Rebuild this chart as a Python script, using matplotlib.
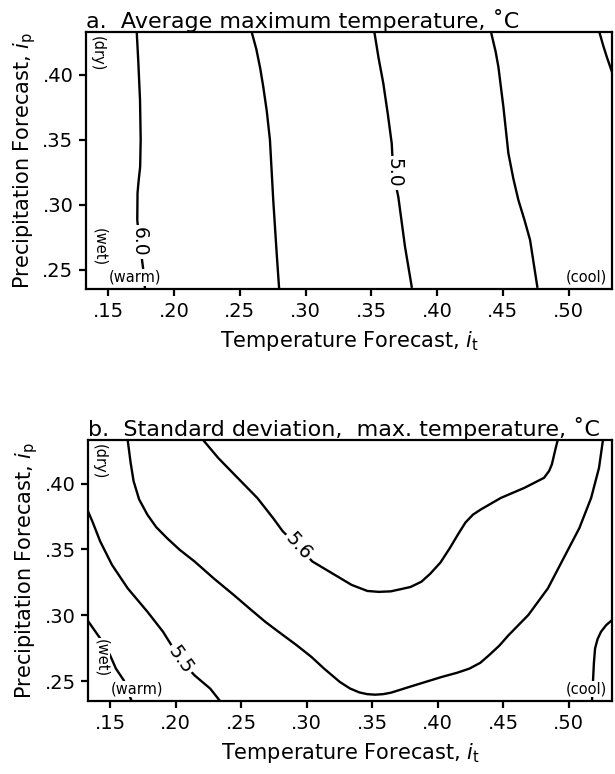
import matplotlib.pyplot as plt
from matplotlib.ticker import FuncFormatter

# axis ticks
it_ticks = [0.15, 0.20, 0.25, 0.30, 0.35, 0.40, 0.45, 0.50]
ip_ticks = [0.25, 0.30, 0.35, 0.40]

# panel a: average maximum temperature, contour lines
a60_it = [0.1716, 0.1728, 0.1741, 0.1746, 0.1742, 0.1730, 0.1722, 0.1720, 0.1735, 0.1753,
          0.1766, 0.1779]
a60_ip = [0.433, 0.41, 0.3806, 0.35, 0.3292, 0.318, 0.309, 0.2882, 0.272, 0.2599,
          0.2496, 0.235]
a55_it = [0.259, 0.2625, 0.2655, 0.2678, 0.2705, 0.2729, 0.2754, 0.278, 0.2798]
a55_ip = [0.433, 0.42, 0.405, 0.3909, 0.372, 0.3498, 0.3036, 0.2628, 0.2364]
a50_it = [0.3523, 0.3555, 0.3591, 0.3625, 0.3655, 0.3667, 0.3705, 0.3756, 0.3807]
a50_ip = [0.433, 0.413, 0.3935, 0.37, 0.3472, 0.3242, 0.3061, 0.2676, 0.2368]
a45_it = [0.441, 0.4445, 0.4466, 0.4504, 0.4542, 0.458, 0.4618, 0.4665, 0.4707, 0.4762]
a45_ip = [0.433, 0.418, 0.4063, 0.3755, 0.3396, 0.32, 0.3036, 0.288, 0.2728, 0.2368]
a40_it = [0.5234, 0.5262, 0.529, 0.533]
a40_ip = [0.433, 0.423, 0.414, 0.4022]

# panel b: standard deviation of max temperature
b56_it = [0.2209, 0.2323, 0.2472, 0.2622, 0.2742, 0.2817, 0.2937, 0.3042, 0.3192,
          0.3342, 0.3462, 0.355, 0.3642, 0.3792, 0.3875, 0.3942, 0.4020, 0.4092,
          0.4155, 0.4212, 0.4270, 0.4332, 0.4482, 0.4661, 0.4811, 0.4850, 0.4871,
          0.4901, 0.4916]
b56_ip = [0.433, 0.4195, 0.4043, 0.3891, 0.3739, 0.3637, 0.3523, 0.3409, 0.332,
          0.3231, 0.3185, 0.3178, 0.3182, 0.3215, 0.3255, 0.3315, 0.340, 0.351,
          0.3615, 0.3705, 0.3765, 0.3805, 0.3891, 0.3967, 0.4043, 0.4095, 0.4145,
          0.4272, 0.433]
bmid_it = [0.1633, 0.1655, 0.1678, 0.172, 0.1783, 0.185, 0.1933, 0.203, 0.2143, 0.229,
           0.2442, 0.2565, 0.2682, 0.2805, 0.2922, 0.3035, 0.3132, 0.3252, 0.3330,
           0.3402, 0.3462, 0.3522, 0.3582, 0.3642, 0.3822, 0.4032, 0.4150, 0.4242,
           0.4325, 0.4392, 0.4470, 0.4541, 0.4691, 0.4841, 0.4961, 0.5081, 0.5171,
           0.5231, 0.5261]
bmid_ip = [0.433, 0.416, 0.4018, 0.388, 0.3764, 0.367, 0.3586, 0.3497, 0.3409, 0.328,
           0.3155, 0.305, 0.2952, 0.286, 0.2774, 0.2685, 0.2596, 0.2495, 0.2445,
           0.2415, 0.2402, 0.2398, 0.2402, 0.2413, 0.2469, 0.2533, 0.2565, 0.2596,
           0.2640, 0.2698, 0.2770, 0.285, 0.3002, 0.3205, 0.3434, 0.3662, 0.3891,
           0.4119, 0.433]
b55_it = [0.133, 0.1363, 0.1423, 0.1513, 0.1633, 0.1783, 0.1903, 0.2038, 0.2143,
          0.2263, 0.2338]
b55_ip = [0.3789, 0.3713, 0.3561, 0.3383, 0.3205, 0.3028, 0.2875, 0.266, 0.2545,
          0.2444, 0.235]
bwarm_it = [0.133, 0.1423, 0.1498, 0.1543, 0.1603, 0.1663]
bwarm_ip = [0.2957, 0.2825, 0.2698, 0.2596, 0.2507, 0.235]
bcool_it = [0.5177, 0.5186, 0.5192, 0.5201, 0.522, 0.5246, 0.5285, 0.533]
bcool_ip = [0.235, 0.252, 0.264, 0.2749, 0.282, 0.2875, 0.2925, 0.2964]

plt.rcParams['font.family'] = ['DejaVu Sans']
plt.rcParams['mathtext.fontset'] = 'dejavusans'

fig = plt.figure(figsize=(6.15, 7.74), dpi=100)
ax_a = fig.add_axes([0.1398, 0.6266, 0.8553, 0.332])
ax_b = fig.add_axes([0.1431, 0.0943, 0.852, 0.3372])

fmt = FuncFormatter(lambda v, p: ('%.2f' % v).lstrip('0'))
lbl_box = dict(facecolor='white', edgecolor='none', pad=1.5)
note_box = dict(facecolor='white', edgecolor='none', pad=0.5)


def setup(ax, title):
    ax.set_xlim(0.133, 0.533)
    ax.set_ylim(0.235, 0.433)
    ax.set_xticks(it_ticks)
    ax.set_yticks(ip_ticks)
    ax.xaxis.set_major_formatter(fmt)
    ax.yaxis.set_major_formatter(fmt)
    ax.tick_params(labelsize=14, width=1.6, length=5, pad=4)
    for s in ax.spines.values():
        s.set_linewidth(1.6)
    ax.set_title(title, loc='left', fontsize=16, pad=3)
    ax.set_xlabel(r'Temperature Forecast, $\mathit{i}_{\mathrm{t}}$', fontsize=15, labelpad=6)
    ax.set_ylabel(r'Precipitation Forecast, $\mathit{i}_{\mathrm{p}}$', fontsize=15, labelpad=3)
    ax.text(0.1414, 0.4165, '(dry)', rotation=-90, fontsize=10.5, ha='center', va='center',
            bbox=note_box, zorder=4)
    ax.text(0.1432, 0.2675, '(wet)', rotation=-90, fontsize=10.5, ha='center', va='center',
            bbox=note_box, zorder=4)
    ax.text(0.1705, 0.244, '(warm)', fontsize=10.5, ha='center', va='center',
            bbox=note_box, zorder=4)
    ax.text(0.5135, 0.244, '(cool)', fontsize=10.5, ha='center', va='center',
            bbox=note_box, zorder=4)


lw = 1.7
setup(ax_a, 'a.  Average maximum temperature, ˚C')
for xs, ys in [(a60_it, a60_ip), (a55_it, a55_ip), (a50_it, a50_ip),
               (a45_it, a45_ip), (a40_it, a40_ip)]:
    ax_a.plot(xs, ys, color='black', lw=lw, solid_joinstyle='round')
ax_a.text(0.1735, 0.2715, '6.0', rotation=-90, fontsize=13.5, ha='center', va='center',
          bbox=lbl_box, zorder=3)
ax_a.text(0.3675, 0.3245, '5.0', rotation=-90, fontsize=13.5, ha='center', va='center',
          bbox=lbl_box, zorder=3)

setup(ax_b, 'b.  Standard deviation,  max. temperature, ˚C')
for xs, ys in [(b56_it, b56_ip), (bmid_it, bmid_ip), (b55_it, b55_ip),
               (bwarm_it, bwarm_ip), (bcool_it, bcool_ip)]:
    ax_b.plot(xs, ys, color='black', lw=lw, solid_joinstyle='round')
ax_b.text(0.2937, 0.3523, '5.6', rotation=-48, fontsize=13.5, ha='center', va='center',
          bbox=lbl_box, zorder=3)
ax_b.text(0.2035, 0.2665, '5.5', rotation=-55, fontsize=13.5, ha='center', va='center',
          bbox=lbl_box, zorder=3)

fig.savefig('out.png', dpi=100)
